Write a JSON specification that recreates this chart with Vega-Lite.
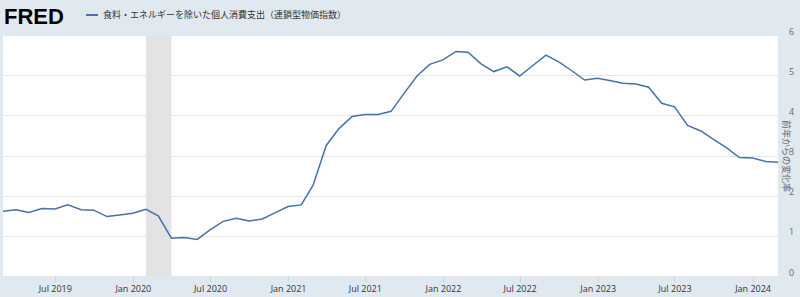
{
  "$schema": "https://vega.github.io/schema/vega-lite/v6.json",
  "width": 775,
  "height": 241,
  "autosize": {"type": "none"},
  "padding": {"left": 3, "top": 35, "right": 22, "bottom": 21},
  "background": "#e1e9f0",
  "config": {"view": {"fill": "#ffffff", "stroke": null}, "font": "Open Sans"},
  "title": {"text": "FRED", "anchor": "start", "frame": "group", "font": "Liberation Sans", "fontSize": 22, "fontWeight": "bold", "color": "#000000", "baseline": "alphabetic", "offset": 0, "dy": 38, "dx": 1},
  "layer": [
    {
      "data": {"values": [{"start": "2020-02-01", "end": "2020-04-01"}]},
      "mark": {"type": "rect", "color": "#e3e3e3"},
      "encoding": {
        "x": {"field": "start", "type": "temporal",
          "scale": {"type": "utc", "domain": [{"year": 2019, "month": 3, "date": 1, "utc": true}, {"year": 2024, "month": 3, "date": 1, "utc": true}]},
          "axis": {"title": null, "tickCount": {"interval": "month", "step": 6}, "format": "%b %Y", "grid": false, "domain": false, "ticks": true, "tickColor": "#ccd6eb", "tickSize": 6, "labelFontSize": 9, "labelColor": "#333333", "labelPadding": 2, "labelFont": "Open Sans"}},
        "x2": {"field": "end"}
      }
    },
    {
      "data": {"values": [
        {"date": "2019-03-01", "value": 1.61},
        {"date": "2019-04-01", "value": 1.65},
        {"date": "2019-05-01", "value": 1.58},
        {"date": "2019-06-01", "value": 1.68},
        {"date": "2019-07-01", "value": 1.67},
        {"date": "2019-08-01", "value": 1.77},
        {"date": "2019-09-01", "value": 1.65},
        {"date": "2019-10-01", "value": 1.64},
        {"date": "2019-11-01", "value": 1.48},
        {"date": "2019-12-01", "value": 1.52},
        {"date": "2020-01-01", "value": 1.56},
        {"date": "2020-02-01", "value": 1.66},
        {"date": "2020-03-01", "value": 1.50},
        {"date": "2020-04-01", "value": 0.94},
        {"date": "2020-05-01", "value": 0.96},
        {"date": "2020-06-01", "value": 0.91},
        {"date": "2020-07-01", "value": 1.15},
        {"date": "2020-08-01", "value": 1.36},
        {"date": "2020-09-01", "value": 1.44},
        {"date": "2020-10-01", "value": 1.37},
        {"date": "2020-11-01", "value": 1.42},
        {"date": "2020-12-01", "value": 1.57},
        {"date": "2021-01-01", "value": 1.73},
        {"date": "2021-02-01", "value": 1.77},
        {"date": "2021-03-01", "value": 2.26},
        {"date": "2021-04-01", "value": 3.25},
        {"date": "2021-05-01", "value": 3.67},
        {"date": "2021-06-01", "value": 3.97},
        {"date": "2021-07-01", "value": 4.02},
        {"date": "2021-08-01", "value": 4.02},
        {"date": "2021-09-01", "value": 4.10},
        {"date": "2021-10-01", "value": 4.54},
        {"date": "2021-11-01", "value": 4.98},
        {"date": "2021-12-01", "value": 5.27},
        {"date": "2022-01-01", "value": 5.38},
        {"date": "2022-02-01", "value": 5.59},
        {"date": "2022-03-01", "value": 5.57},
        {"date": "2022-04-01", "value": 5.28},
        {"date": "2022-05-01", "value": 5.09},
        {"date": "2022-06-01", "value": 5.21},
        {"date": "2022-07-01", "value": 4.98},
        {"date": "2022-08-01", "value": 5.24},
        {"date": "2022-09-01", "value": 5.50},
        {"date": "2022-10-01", "value": 5.33},
        {"date": "2022-11-01", "value": 5.11},
        {"date": "2022-12-01", "value": 4.88},
        {"date": "2023-01-01", "value": 4.92},
        {"date": "2023-02-01", "value": 4.86},
        {"date": "2023-03-01", "value": 4.80},
        {"date": "2023-04-01", "value": 4.78},
        {"date": "2023-05-01", "value": 4.70},
        {"date": "2023-06-01", "value": 4.30},
        {"date": "2023-07-01", "value": 4.21},
        {"date": "2023-08-01", "value": 3.75},
        {"date": "2023-09-01", "value": 3.61},
        {"date": "2023-10-01", "value": 3.40},
        {"date": "2023-11-01", "value": 3.19},
        {"date": "2023-12-01", "value": 2.95},
        {"date": "2024-01-01", "value": 2.94},
        {"date": "2024-02-01", "value": 2.85},
        {"date": "2024-03-01", "value": 2.83}
      ]},
      "mark": {"type": "line", "strokeWidth": 1.5},
      "encoding": {
        "x": {"field": "date", "type": "temporal",
          "scale": {"type": "utc", "domain": [{"year": 2019, "month": 3, "date": 1, "utc": true}, {"year": 2024, "month": 3, "date": 1, "utc": true}]},
          "axis": {"title": null, "tickCount": {"interval": "month", "step": 6}, "format": "%b %Y", "grid": false, "domain": false, "ticks": true, "tickColor": "#ccd6eb", "tickSize": 6, "labelFontSize": 9, "labelColor": "#333333", "labelPadding": 2, "labelFont": "Open Sans"}},
        "y": {"field": "value", "type": "quantitative",
          "scale": {"domain": [0, 6], "nice": false},
          "axis": {"orient": "right", "title": "前年からの変化率", "values": [0, 1, 2, 3, 4, 5, 6], "grid": true, "gridColor": "#e6e6e6", "domain": false, "ticks": false, "labelPadding": 13, "labelAlign": "center", "labelOffset": -4, "labelColor": "#666666", "labelFontSize": 9, "labelFont": "Open Sans", "titleFont": "Noto Sans CJK JP", "titleFontSize": 9, "titleFontWeight": "normal", "titleColor": "#666666", "titleAngle": 90, "titleX": 7, "titleY": 120.5, "titleAlign": "center", "titleBaseline": "middle"}},
        "color": {"datum": "食料・エネルギーを除いた個人消費支出（連鎖型物価指数）",
          "scale": {"range": ["#4572a7"]},
          "legend": {"orient": "none", "legendX": 82, "legendY": -27, "title": null, "symbolType": "stroke", "symbolSize": 144, "symbolStrokeWidth": 2, "labelFont": "Noto Sans CJK JP", "labelFontSize": 9, "labelColor": "#333333", "padding": 0, "labelLimit": 400, "labelOffset": 4}}
      }
    }
  ]
}
